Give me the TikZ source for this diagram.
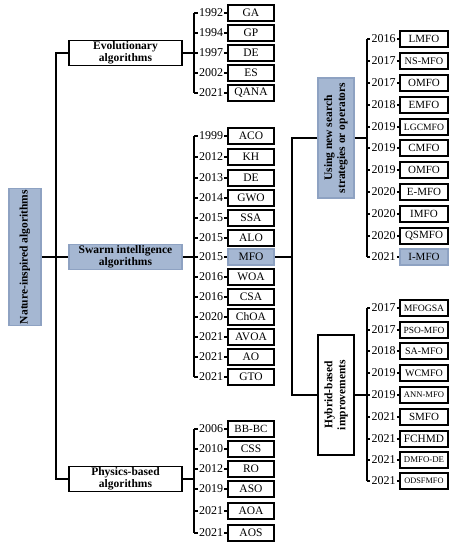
\documentclass[tikz,border=0pt]{standalone}
\usepackage{fontspec}
\setmainfont{Liberation Serif}
\definecolor{bl}{HTML}{A5B7D2}
\definecolor{bld}{HTML}{8EA2C2}
\begin{document}
\begin{tikzpicture}[x=1pt,y=-1pt,line width=1.2pt,
  cat/.style={draw, rectangle, line width=1.3pt, minimum width=113pt, minimum height=25pt, inner sep=0pt, align=center, font=\fontsize{11.5}{12.5}\selectfont\bfseries},
  hl/.style={fill=bl, draw=bld},
  leaf/.style={draw, rectangle, line width=1.3pt, minimum width=46pt, minimum height=16pt, inner sep=0pt},
  leafw/.style={leaf, minimum width=48pt},
  leafhl/.style={leaf, hl},
  leafwhl/.style={leafw, hl},
  yrs/.style={fill=white, inner sep=0.8pt, font=\fontsize{12}{12}\selectfont},
  vbox/.style={draw, rectangle, line width=1.3pt, rotate=90, minimum width=120pt, minimum height=36pt, inner sep=0pt, align=center, font=\fontsize{11.5}{13}\selectfont\bfseries}]
\useasboundingbox (0,0) rectangle (457,550);

% root and categories
\node[vbox, hl, minimum width=137pt, minimum height=32pt] (root) at (25,257) {Nature-inspired algorithms};
\node[cat] (evo) at (125.5,53) {Evolutionary\\algorithms};
\node[cat, hl] (swarm) at (125.5,257) {Swarm intelligence\\algorithms};
\node[cat] (phys) at (125.5,479) {Physics-based\\algorithms};
\coordinate (tk) at (56,479);
\draw (evo.west) -| (tk) -- (phys.west);
\draw (root.south) -- (swarm.west);

% evolutionary
\foreach \i/\yy/\yv/\lab/\fs in {1/13/1992/GA/11.5, 2/33/1994/GP/11.5, 3/53/1997/DE/11.5, 4/73/2002/ES/11.5, 5/93/2021/QANA/11.5}{
  \node[yrs] (ey\i) at (211,\yy) {\yv};
  \node[leaf, font=\fontsize{\fs}{\fs}\selectfont] (eb\i) at (251,\yy) {\lab};
  \coordinate (ej\i) at (194,\yy);
  \draw (ej\i) -- (ey\i) -- (eb\i);
}
\draw (ej1) -- (ej5);
\draw (evo.east) -- (ej3);

% swarm
\foreach \i/\yy/\yv/\lab/\st in {1/136/1999/ACO/leaf, 2/157/2012/KH/leaf, 3/178/2013/DE/leaf, 4/198/2014/GWO/leaf, 5/218/2015/SSA/leaf, 6/238/2015/ALO/leaf, 7/257/2015/MFO/leafhl, 8/277/2016/WOA/leaf, 9/297/2016/CSA/leaf, 10/317/2020/ChOA/leaf, 11/337/2021/AVOA/leaf, 12/357/2021/AO/leaf, 13/377/2021/GTO/leaf}{
  \node[yrs] (sy\i) at (211,\yy) {\yv};
  \node[\st, font=\fontsize{11.5}{11.5}\selectfont] (sb\i) at (251,\yy) {\lab};
  \coordinate (sj\i) at (194,\yy);
  \draw (sj\i) -- (sy\i) -- (sb\i);
}
\draw (sj1) -- (sj13);
\draw (swarm.east) -- (sj7);

% physics
\foreach \i/\yy/\yv/\lab/\fs in {1/429/2006/BB-BC/11, 2/449/2010/CSS/11.5, 3/469/2012/RO/11.5, 4/489/2019/ASO/11.5, 5/511/2021/AOA/11.5, 6/533/2021/AOS/11.5}{
  \node[yrs] (py\i) at (211,\yy) {\yv};
  \node[leaf, font=\fontsize{\fs}{\fs}\selectfont] (pb\i) at (251,\yy) {\lab};
  \coordinate (pj\i) at (194,\yy);
  \draw (pj\i) -- (py\i) -- (pb\i);
}
\draw (pj1) -- (pj6);
\coordinate (pc) at (194,479);
\draw (phys.east) -- (pc);

% MFO improvements
\node[vbox, hl] (strat) at (336,138) {Using new search\\strategies or operators};
\node[vbox] (hyb) at (336,395) {Hybrid-based\\improvements};
\coordinate (t2) at (292,257);
\draw (sb7.east) -- (t2);
\draw (strat.north) -| (t2) |- (hyb.north);

\foreach \i/\yy/\yv/\lab/\fs/\st in {1/39/2016/LMFO/11/leafw, 2/61/2017/NS-MFO/10.2/leafw, 3/83/2017/OMFO/11/leafw, 4/105/2018/EMFO/11/leafw, 5/127/2019/LGCMFO/9.6/leafw, 6/148/2019/CMFO/11/leafw, 7/170/2019/OMFO/11/leafw, 8/192/2020/E-MFO/11/leafw, 9/214/2020/IMFO/11/leafw, 10/236/2020/QSMFO/11/leafw, 11/257/2021/I-MFO/11/leafwhl}{
  \node[yrs] (uy\i) at (383.5,\yy) {\yv};
  \node[\st, font=\fontsize{\fs}{\fs}\selectfont] (ub\i) at (424,\yy) {\lab};
  \coordinate (uj\i) at (367,\yy);
  \draw (uj\i) -- (uy\i) -- (ub\i);
}
\draw (uj1) -- (uj11);
\coordinate (uc) at (367,138);
\draw (strat.south) -- (uc);

\foreach \i/\yy/\yv/\lab/\fs in {1/308/2017/MFOGSA/9.7, 2/330/2017/PSO-MFO/9.4, 3/351/2018/SA-MFO/10, 4/373/2019/WCMFO/10, 5/395/2019/ANN-MFO/8.6, 6/417/2021/SMFO/11, 7/439/2021/FCHMD/11.3, 8/460/2021/DMFO-DE/8.8, 9/481/2021/ODSFMFO/8.3}{
  \node[yrs] (hy\i) at (383.5,\yy) {\yv};
  \node[leafw, font=\fontsize{\fs}{\fs}\selectfont] (hb\i) at (424,\yy) {\lab};
  \coordinate (hj\i) at (367,\yy);
  \draw (hj\i) -- (hy\i) -- (hb\i);
}
\draw (hj1) -- (hj9);
\draw (hyb.south) -- (hj5);
\end{tikzpicture}
\end{document}
